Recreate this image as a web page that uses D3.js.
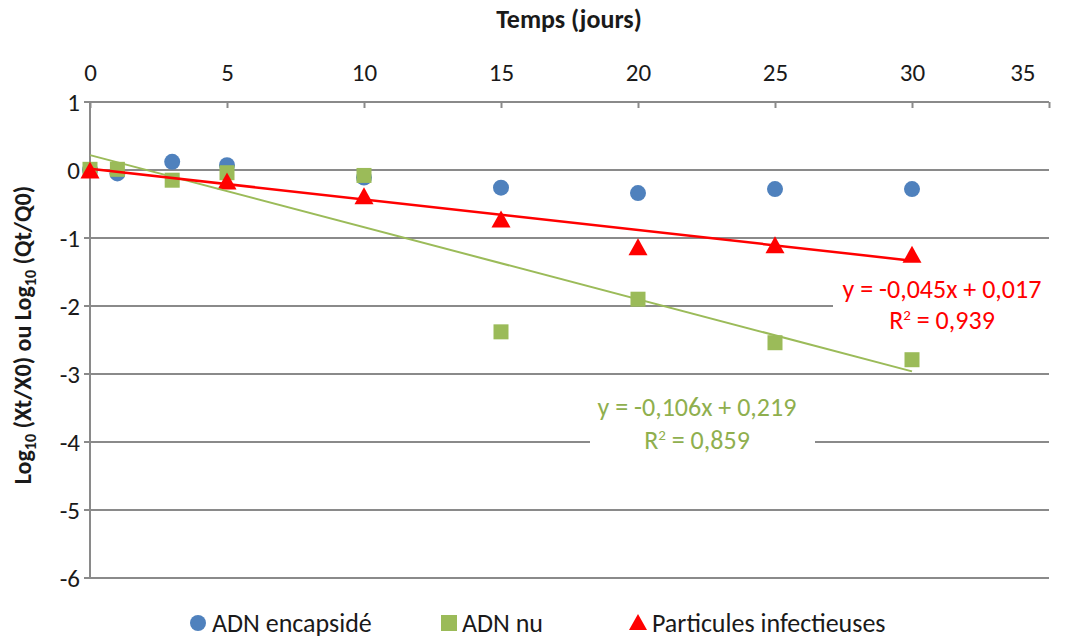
<!DOCTYPE html>
<html><head><meta charset="utf-8">
<script src="https://cdn.jsdelivr.net/npm/d3@7"></script>
<style>html,body{margin:0;padding:0;background:#fff;}svg{display:block;font-family:Carlito,Lato,"Open Sans",sans-serif;}</style>
</head><body>
<svg id="chart" width="1070" height="638"></svg>
<script>
// ---- data ----
const days = [0, 1, 3, 5, 10, 15, 20, 25, 30];
const adnEncapside = [0, -0.05, 0.12, 0.07, -0.11, -0.26, -0.34, -0.28, -0.28];
const adnNu = [0.01, 0.01, -0.15, -0.04, -0.08, -2.38, -1.90, -2.54, -2.79];
const daysParticules = [0, 5, 10, 15, 20, 25, 30];
const particules = [0, -0.16, -0.38, -0.72, -1.13, -1.10, -1.24];
const xTicks = [0, 5, 10, 15, 20, 25, 30, 35];
const yTicks = [1, 0, -1, -2, -3, -4, -5, -6];
const seriesNames = ["ADN encapsidé", "ADN nu", "Particules infectieuses"];
const trendNu = {slope: -0.106, intercept: 0.219, r2: "0,859", eq: "y = -0,106x + 0,219"};
const trendPart = {slope: -0.045, intercept: 0.017, r2: "0,939", eq: "y = -0,045x + 0,017"};
const trendRange = [0, 30];

const BLUE = "#4F81BD", GREEN = "#9BBB59", RED = "#FF0000", GRID = "#8a8a8a", TXT = "#1a1a1a";

const svg = d3.select("#chart");
const x = d3.scaleLinear().domain([0, 35]).range([90, 1049]);
const y = d3.scaleLinear().domain([-6, 1]).range([578, 102]);

// gridlines
svg.append("g").selectAll("line").data(yTicks).join("line")
  .attr("x1", x(0)).attr("x2", x(35))
  .attr("y1", d => y(d)).attr("y2", d => y(d))
  .attr("stroke", GRID).attr("stroke-width", 2);

// y axis line and ticks
svg.append("line").attr("x1", x(0)).attr("x2", x(0)).attr("y1", y(1)).attr("y2", y(-6))
  .attr("stroke", GRID).attr("stroke-width", 2);
svg.append("g").selectAll("line").data(yTicks).join("line")
  .attr("x1", x(0) - 6).attr("x2", x(0)).attr("y1", d => y(d)).attr("y2", d => y(d))
  .attr("stroke", GRID).attr("stroke-width", 2);
svg.append("g").selectAll("text").data(yTicks).join("text")
  .attr("x", 80).attr("y", d => y(d)).attr("dy", "0.35em")
  .attr("text-anchor", "end").attr("font-size", 25).attr("fill", TXT)
  .text(d => d);

// top x axis
const xAxis = d3.axisTop(x).tickValues(xTicks).tickSize(-6).tickPadding(21);
const gx = svg.append("g").attr("transform", `translate(0,${y(1)})`).call(xAxis);
gx.select(".domain").remove();
gx.selectAll(".tick line").attr("stroke", GRID).attr("stroke-width", 2);
gx.selectAll(".tick text").attr("font-size", 25).attr("fill", TXT)
  .attr("font-family", "Carlito,Lato,'Open Sans',sans-serif");
gx.selectAll(".tick text").filter(d => d === 35).attr("text-anchor", "end").attr("x", -14);

// titles
svg.append("text").attr("x", 569).attr("y", 28).attr("text-anchor", "middle")
  .attr("font-weight", "bold").attr("font-size", 26).attr("fill", TXT).text("Temps (jours)");

const yt = svg.append("text").attr("transform", "translate(31,335) rotate(-90)")
  .attr("text-anchor", "middle").attr("font-weight", "bold").attr("font-size", 24).attr("fill", TXT);
yt.append("tspan").text("Log");
yt.append("tspan").attr("font-size", 16).attr("dy", 5).text("10");
yt.append("tspan").attr("dy", -5).text(" (Xt/X0) ou Log");
yt.append("tspan").attr("font-size", 16).attr("dy", 5).text("10");
yt.append("tspan").attr("dy", -5).text(" (Qt/Q0)");

// markers
const gBlue = svg.append("g");
gBlue.selectAll("circle").data(days).join("circle")
  .attr("cx", d => x(d)).attr("cy", (d, i) => y(adnEncapside[i])).attr("r", 8).attr("fill", BLUE);
const gGreen = svg.append("g");
gGreen.selectAll("rect").data(days).join("rect")
  .attr("x", d => x(d) - 7.5).attr("y", (d, i) => y(adnNu[i]) - 7.5)
  .attr("width", 15).attr("height", 15).attr("fill", GREEN);
const tri = (cx, cy, w, h) => `M${cx},${cy - h / 2}L${cx + w / 2},${cy + h / 2}L${cx - w / 2},${cy + h / 2}Z`;
const gRed = svg.append("g");
gRed.selectAll("path").data(daysParticules).join("path")
  .attr("d", (d, i) => tri(x(d), y(particules[i]), 19, 17)).attr("fill", RED);

// trendlines
const lineGen = t => d3.line().x(d => x(d)).y(d => y(t.slope * d + t.intercept))(trendRange);
svg.append("path").attr("d", lineGen(trendNu)).attr("stroke", GREEN).attr("stroke-width", 2).attr("fill", "none");
svg.append("path").attr("d", lineGen(trendPart)).attr("stroke", RED).attr("stroke-width", 2.5).attr("fill", "none");

// equation labels
function eqLabel(t, cx, y1, y2, color, box) {
  const g = svg.append("g");
  g.append("rect").attr("x", box[0]).attr("y", box[1]).attr("width", box[2] - box[0]).attr("height", box[3] - box[1]).attr("fill", "#fff");
  g.append("text").attr("x", cx).attr("y", y1).attr("dy", "0.35em").attr("text-anchor", "middle")
    .attr("font-size", 26).attr("fill", color).text(t.eq);
  const b = g.append("text").attr("x", cx).attr("y", y2).attr("dy", "0.35em").attr("text-anchor", "middle")
    .attr("font-size", 26).attr("fill", color);
  b.append("tspan").text("R");
  b.append("tspan").attr("font-size", 15).attr("dy", -9).text("2");
  b.append("tspan").attr("dy", 9).text(" = " + t.r2);
}
eqLabel(trendPart, 942, 289, 320, RED, [833, 272, 1050, 338]);
eqLabel(trendNu, 697, 407, 440, "#8FAF4E", [590, 390, 815, 458]);

// legend
const lg = svg.append("g");
lg.append("circle").attr("cx", 198).attr("cy", 623).attr("r", 8).attr("fill", BLUE);
lg.append("rect").attr("x", 441).attr("y", 615).attr("width", 16).attr("height", 16).attr("fill", GREEN);
lg.append("path").attr("d", tri(638, 622, 18, 16)).attr("fill", RED);
const lx = [212, 462, 652];
seriesNames.forEach((n, i) => {
  lg.append("text").attr("x", lx[i]).attr("y", 623).attr("dy", "0.35em")
    .attr("font-size", 26).attr("fill", TXT).text(n);
});
</script>
</body></html>
